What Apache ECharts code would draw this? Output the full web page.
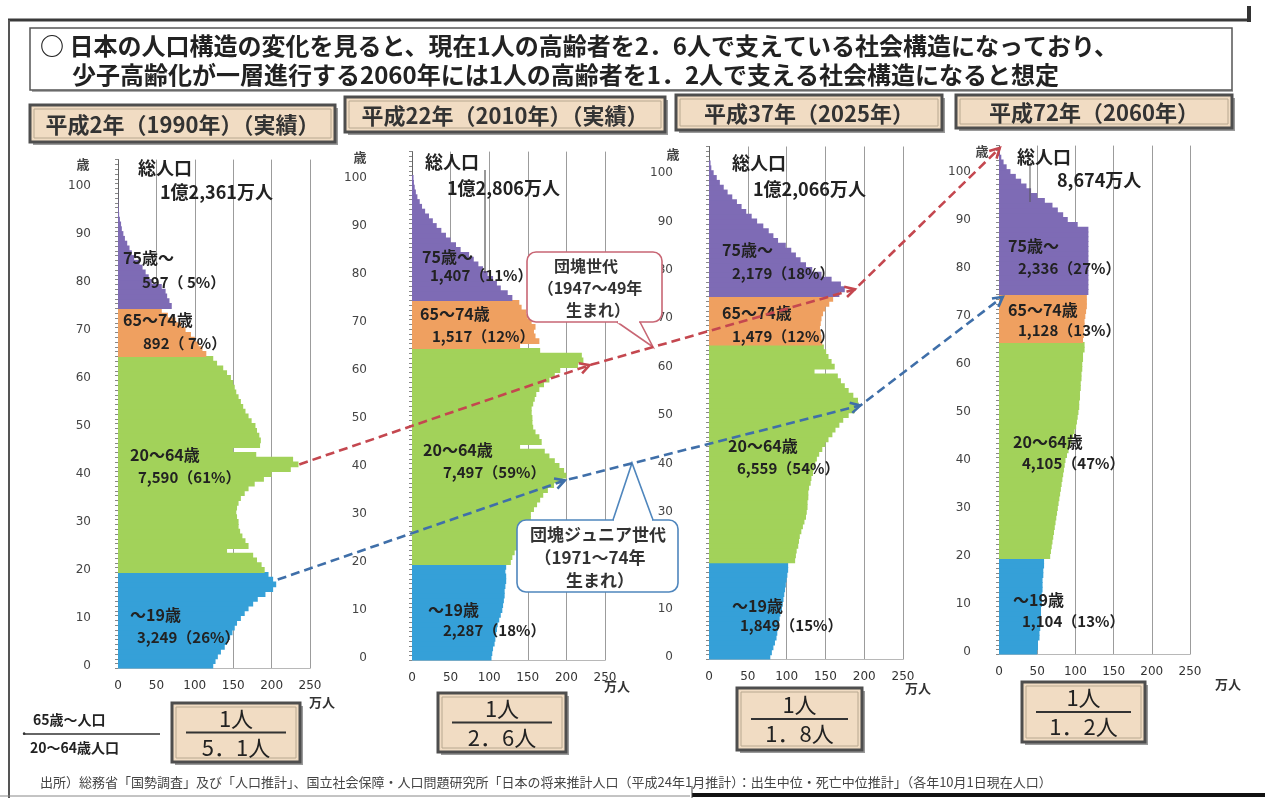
<!DOCTYPE html>
<html>
<head>
<meta charset="utf-8">
<script src="https://cdn.jsdelivr.net/npm/echarts@6/dist/echarts.min.js"></script>
<style>
  html, body { margin: 0; padding: 0; background: #ffffff; }
  #chart { width: 1265px; height: 798px; }
</style>
</head>
<body>
<div id="chart"></div>
<script>
// ---- data: population by single year of age (万人), ages 0..105 ----
const ageLabels = Array.from({ length: 106 }, (_, i) => String(i));

const pop1990 = [
  124,127,130,134,139,142,146,149,152,155, 160,165,170,176,182,192,202,206,202,196,
  191,187,181,176,142,170,166,162,159,157, 157,155,154,155,157,160,165,170,178,190,
  200,225,235,228,180,150,185,186,184,181, 179,174,170,166,163,160,157,154,152,150,
  147,142,137,129,124, 115,110,105,100,95,88,82,75,65,57,
  70,67,64,62,57, 44,40,36,32,28, 21,18,15,12,9, 7,5,4,2.5,1.5,1,0.5,0.3,0.1,0.1,
  0,0,0,0,0,0
];
const pop2010 = [
  103,104,105,107,108,109,110,111,113,115, 117,118,119,120,120,121,122,122,121,122,
  128,130,133,136,139,142,145,148,151,154, 154,158,162,166,170,176,184,195,200,197,
  191,185,178,172,140,168,165,160,157,156, 156,155,155,157,159,161,165,171,178,185,
  192,215,222,220,166, 140,165,160,158,160,155,150,148,142,139,
  130,124,115,110,105, 98,92,86,80,74, 63,57,50,44,38, 32,27,22,17,13,10,7,5,3.5,2.5,
  2,0,0,0,0,0
];
const pop2025 = [
  79,81,83,85,87,88,89,90,91,92, 94,95,96,97,98,99,100,101,102,102,
  111,112,113,115,116,117,119,121,123,125, 126,127,127,128,128,129,131,132,134,135,
  137,139,142,146,150,154,159,163,168,173, 180,188,193,192,186,180,175,170,166,136,
  162,158,154,151,148, 146,145,144,143,144,145,147,150,155,160,
  168,175,170,158,145, 133,125,118,112,106, 99,89,83,77,70, 62,55,48,42,36,30,24,19,14,10,
  6,3,2,0,0,0
];
const pop2060 = [
  50,51,51,53,53,54,54,55,55,55, 56,56,56,57,57,57,58,58,59,59,
  67,68,69,70,71,72,73,74,75,76, 77,78,79,80,81,82,83,84,85,86,
  87,89,91,93,95,97,99,101,102,103, 104,105,105,106,106,107,107,108,108,109,
  109,110,110,112,112, 110,111,111,112,112,113,114,115,115,115,
  117,117,117,117,117, 117,117,117,117,117, 117,117,117,117,103, 90,84,77,70,60,50,42,36,29,22,
  15,10,6,3,1,0
];

// age groups (from, to) drawn in separate colours
const groupNames  = ['〜19歳', '20〜64歳', '65〜74歳', '75歳〜'];
const groupRanges = [[0, 19], [20, 64], [65, 74], [75, 105]];
const groupColors = ['#35a0d8', '#a2d25a', '#efa060', '#7e6bb5'];

const xTicks = [0, 50, 100, 150, 200, 250];

// texts
const panelTitles = ['平成2年（1990年）（実績）', '平成22年（2010年）（実績）', '平成37年（2025年）', '平成72年（2060年）'];
const totalTexts  = ['1億2,361万人', '1億2,806万人', '1億2,066万人', '8,674万人'];
const groupValueTexts = [
  ['3,249（26%）', '7,590（61%）', '892（ 7%）', '597（ 5%）'],
  ['2,287（18%）', '7,497（59%）', '1,517（12%）', '1,407（11%）'],
  ['1,849（15%）', '6,559（54%）', '1,479（12%）', '2,179（18%）'],
  ['1,104（13%）', '4,105（47%）', '1,128（13%）', '2,336（27%）']
];
const supportRatios = ['5．1人', '2．6人', '1．8人', '1．2人'];

const populations = [pop1990, pop2010, pop2025, pop2060];

// ---- layout ----
const FONT = '"Noto Sans CJK JP", "Noto Sans", sans-serif';
const panelLayout = [
  { left: 118, top: 159.6, width: 192, height: 508.8, labelMargin: 27 },
  { left: 412, top: 151.6, width: 193, height: 508.8, labelMargin: 45 },
  { left: 709, top: 146.5, width: 194, height: 513.0, labelMargin: 36 },
  { left: 999, top: 145.6, width: 191, height: 508.8, labelMargin: 28 }
];

const grids = [], xAxes = [], yAxes = [], series = [];
panelLayout.forEach((p, i) => {
  grids.push({ left: p.left, top: p.top, width: p.width, height: p.height, containLabel: false });
  xAxes.push({
    type: 'value', gridIndex: i, min: xTicks[0], max: xTicks[xTicks.length - 1], interval: 50,
    axisLine: { show: true, lineStyle: { color: '#b8b8b8', width: 1 } },
    axisTick: { show: false },
    splitLine: { show: true, lineStyle: { color: '#9c9c9c', width: 1 } },
    axisLabel: { fontSize: 12, color: '#333', margin: 11, fontFamily: 'DejaVu Sans' }
  });
  yAxes.push({
    type: 'category', gridIndex: i, data: ageLabels,
    axisLine: { show: true, lineStyle: { color: '#666', width: 1 } },
    axisTick: { show: true, interval: 0, length: 3, lineStyle: { color: '#888' } },
    splitLine: { show: false },
    axisLabel: {
      interval: (idx) => idx % 10 === 0, fontSize: 12, color: '#444',
      margin: p.labelMargin, fontFamily: 'DejaVu Sans'
    }
  });
  const pop = populations[i];
  groupRanges.forEach((r, g) => {
    series.push({
      type: 'bar', name: groupNames[g], xAxisIndex: i, yAxisIndex: i, stack: 'p' + i,
      // bars slightly thicker than one age band so neighbouring years overlap without seams
      barWidth: 5.8, silent: true,
      itemStyle: { color: groupColors[g] },
      data: pop.map((v, age) => (age >= r[0] && age <= r[1]) ? v : '-')
    });
  });
});

const chart = echarts.init(document.getElementById('chart'));
chart.setOption({
  animation: false,
  backgroundColor: '#ffffff',
  grid: grids, xAxis: xAxes, yAxis: yAxes, series: series
});

// ---- annotation helpers ----
function text(x, y, str, size, opt) {
  opt = opt || {};
  const align = opt.align || 'left';
  return {
    type: 'text', z: 60,
    style: {
      x: x, y: y, text: str,
      font: (opt.weight || 'bold') + ' ' + size + 'px ' + FONT,
      fill: opt.color || '#222',
      textAlign: align, align: align,
      textVerticalAlign: 'middle', verticalAlign: 'middle'
    }
  };
}
function rect(x, y, w, h, style, z, r) {
  return { type: 'rect', z: z || 40, shape: { x: x, y: y, width: w, height: h, r: r || 0 }, style: style };
}
function line(x1, y1, x2, y2, style, z) {
  return { type: 'line', z: z || 45, shape: { x1: x1, y1: y1, x2: x2, y2: y2 }, style: style };
}
function tanBox(x, y, w, h) {
  return [
    rect(x + 3, y + 3, w, h, { fill: '#9a9a9a' }, 38),
    rect(x, y, w, h, { fill: '#f1dcc3', stroke: '#4e4e4e', lineWidth: 3 }, 40),
    rect(x + 4, y + 4, w - 8, h - 8, { fill: 'none', stroke: '#b8a890', lineWidth: 1 }, 41)
  ];
}

const gfx = [];

// page frame and header
gfx.push(line(8, 20, 1250, 20, { stroke: '#3a3a3a', lineWidth: 3 }, 30));
gfx.push(line(9, 20, 9, 798, { stroke: '#555', lineWidth: 2 }, 30));
gfx.push(line(1249, 6, 1249, 22, { stroke: '#333', lineWidth: 4 }, 30));
gfx.push(rect(30, 28, 1202, 62, { fill: '#ffffff', stroke: '#555', lineWidth: 1.5 }, 31));
gfx.push(line(32, 91, 1233, 91, { stroke: '#aaa', lineWidth: 2 }, 30));
gfx.push(text(40, 46, '○ 日本の人口構造の変化を見ると、現在1人の高齢者を2．6人で支えている社会構造になっており、', 24));
gfx.push(text(72, 75, '少子高齢化が一層進行する2060年には1人の高齢者を1．2人で支える社会構造になると想定', 24));

// panel titles
const titleBoxes = [[30, 105, 305, 37], [345, 97, 320, 35], [676, 95, 266, 35], [956, 95, 276, 33]];
titleBoxes.forEach((b, i) => {
  tanBox(b[0], b[1], b[2], b[3]).forEach(e => gfx.push(e));
  gfx.push(text(b[0] + b[2] / 2, b[1] + b[3] / 2 + 1, panelTitles[i], 22, { align: 'center', color: '#333' }));
});

// axis name (歳) and unit (万人)
const ageNamePos = [[83, 164], [360, 157], [673, 154], [982, 151]];
const unitPos = [[322, 702], [617, 686], [918, 688], [1228, 684]];
ageNamePos.forEach(p => gfx.push(text(p[0], p[1], '歳', 13, { align: 'center', color: '#444' })));
unitPos.forEach(p => gfx.push(text(p[0], p[1], '万人', 13, { align: 'center', color: '#333' })));

// total population
const totalPos = [[[138, 168], [160, 192]], [[425, 162], [447, 188]], [[732, 163], [753, 189]], [[1017, 157], [1057, 180]]];
totalPos.forEach((p, i) => {
  gfx.push(text(p[0][0], p[0][1], '総人口', 18));
  gfx.push(text(p[1][0], p[1][1], totalTexts[i], 18));
});
gfx.push(line(485, 170, 485, 273, { stroke: '#333', lineWidth: 1 }, 45));
gfx.push(line(1030, 166, 1030, 202, { stroke: '#555', lineWidth: 1 }, 45));

// group labels: [name x, name y, value x, value y], order follows groupNames
const groupLabelPos = [
  [[130, 615, 137, 637], [130, 455, 138, 477], [123, 320, 143, 343], [123, 258, 142, 282]],
  [[428, 610, 443, 630], [423, 450, 443, 472], [420, 314, 432, 336], [422, 257, 430, 275]],
  [[732, 606, 740, 625], [728, 446, 737, 468], [722, 313, 732, 336], [722, 250, 732, 273]],
  [[1013, 600, 1022, 621], [1013, 442, 1022, 463], [1008, 310, 1018, 330], [1008, 246, 1018, 268]]
];
groupLabelPos.forEach((panel, i) => {
  panel.forEach((p, g) => {
    gfx.push(text(p[0], p[1], groupNames[g], 16));
    gfx.push(text(p[2], p[3], groupValueTexts[i][g], 15));
  });
});

// callouts
function callout(x, y, w, h, color, tail, lines, size, lineCenters) {
  const out = [];
  out.push(rect(x, y, w, h, { fill: '#ffffff', stroke: color, lineWidth: 1.6 }, 70, 9));
  out.push({ type: 'polyline', z: 71, shape: { points: tail }, style: { stroke: color, lineWidth: 1.6, fill: 'none' } });
  out.push({ type: 'line', z: 71, shape: { x1: tail[0][0] + 1, y1: tail[0][1], x2: tail[2][0] - 1, y2: tail[2][1] }, style: { stroke: '#ffffff', lineWidth: 2.5 } });
  lines.forEach((s, k) => {
    const t = text(lineCenters[k][0], lineCenters[k][1], s, size, { align: 'center', color: '#333' });
    t.z = 72;
    out.push(t);
  });
  return out;
}
callout(527, 252, 135, 70, '#c86674', [[617, 322], [653, 347], [640, 322]],
  ['団塊世代', '（1947〜49年', '生まれ）'], 16, [[586, 266], [590, 288], [598, 310]]).forEach(e => gfx.push(e));
callout(517, 520, 161, 72, '#4f86bd', [[613, 520], [632, 463], [653, 520]],
  ['団塊ジュニア世代', '（1971〜74年', '生まれ）'], 17, [[598, 535], [590, 558], [600, 581]]).forEach(e => gfx.push(e));

// cohort arrows: [panel, value(万人), age]
const dankaiPath = [[0, 236, 42], [1, 230, 61], [2, 188, 76], [3, 1, 105]];
const juniorPath = [[0, 208, 18], [1, 198, 37], [2, 195, 52], [3, 5, 74]];

function arrowPath(path, color) {
  const pts = path.map(p => chart.convertToPixel({ gridIndex: p[0] }, [p[1], p[2]]));
  const out = [{
    type: 'polyline', z: 80, shape: { points: pts },
    style: { stroke: color, lineWidth: 2.6, lineDash: [9, 5], fill: 'none' }
  }];
  for (let k = 1; k < pts.length; k++) {
    const a = pts[k - 1], b = pts[k];
    const ang = Math.atan2(b[1] - a[1], b[0] - a[0]);
    const L = 11, spread = 0.5;
    const p1 = [b[0] - L * Math.cos(ang - spread), b[1] - L * Math.sin(ang - spread)];
    const p2 = [b[0] - L * Math.cos(ang + spread), b[1] - L * Math.sin(ang + spread)];
    out.push({ type: 'polyline', z: 81, shape: { points: [p1, b, p2] }, style: { stroke: color, lineWidth: 2.6, fill: 'none' } });
  }
  return out;
}
arrowPath(dankaiPath, '#c4474f').forEach(e => gfx.push(e));
arrowPath(juniorPath, '#3f6fa9').forEach(e => gfx.push(e));

// support ratio (65+ / 20-64)
gfx.push(text(20, 734, '·', 14, { color: '#333' }));
gfx.push(text(33, 720, '65歳〜人口', 14));
gfx.push(line(25, 734, 160, 734, { stroke: '#333', lineWidth: 1.5 }, 45));
gfx.push(text(30, 748, '20〜64歳人口', 14));
const ratioBoxes = [[172, 703, 128, 59], [438, 693, 128, 59], [737, 688, 125, 62], [1022, 682, 123, 60]];
ratioBoxes.forEach((b, i) => {
  tanBox(b[0], b[1], b[2], b[3]).forEach(e => gfx.push(e));
  const cx = b[0] + b[2] / 2, cy = b[1] + b[3] / 2;
  gfx.push(text(cx, cy - 14, '1人', 22, { align: 'center', weight: 'normal', color: '#222' }));
  gfx.push(line(b[0] + 14, cy, b[0] + b[2] - 14, cy, { stroke: '#333', lineWidth: 2 }, 45));
  gfx.push(text(cx, cy + 15, supportRatios[i], 22, { align: 'center', weight: 'normal', color: '#222' }));
});

// source note
gfx.push(text(40, 782, '出所）総務省「国勢調査」及び「人口推計」、国立社会保障・人口問題研究所「日本の将来推計人口（平成24年1月推計）：出生中位・死亡中位推計」（各年10月1日現在人口）', 13, { weight: 'normal', color: '#444' }));
gfx.push(line(0, 796, 690, 796, { stroke: '#888', lineWidth: 1 }, 30));
gfx.push(line(692, 795, 1265, 795, { stroke: '#111', lineWidth: 4 }, 30));
gfx.push(line(692, 786, 692, 798, { stroke: '#444', lineWidth: 1 }, 30));

chart.setOption({ graphic: { elements: gfx } });
</script>
</body>
</html>
